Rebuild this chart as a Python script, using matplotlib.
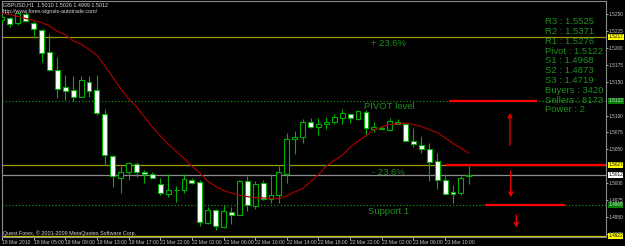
import matplotlib
matplotlib.use("Agg")
import matplotlib.pyplot as plt

plt.rcParams['font.family'] = ['Liberation Sans', 'DejaVu Sans']

# hourly GBPUSD bars
opens = [1.5242, 1.5245, 1.5237, 1.5251, 1.5238, 1.5227, 1.5194, 1.5167, 1.5142, 1.5138,
         1.5128, 1.5150, 1.5138, 1.5103, 1.5040, 1.5008, 1.5017, 1.5029, 1.5016, 1.5013,
         1.4998, 1.4984, 1.4989, 1.4990, 1.5004, 1.5002, 1.4941, 1.4960, 1.4935, 1.4957,
         1.4953, 1.5003, 1.4966, 1.5000, 1.4977, 1.4982, 1.5014, 1.5065, 1.5068, 1.5091,
         1.5083, 1.5087, 1.5090, 1.5096, 1.5103, 1.5095, 1.5105, 1.5080, 1.5082, 1.5078,
         1.5091, 1.5087, 1.5062, 1.5057, 1.5050, 1.5033, 1.5004, 1.4986, 1.4985, 1.5010]
highs = [1.5250, 1.5247, 1.5254, 1.5253, 1.5241, 1.5228, 1.5221, 1.5187, 1.5160, 1.5159,
         1.5159, 1.5159, 1.5160, 1.5110, 1.5041, 1.5025, 1.5031, 1.5031, 1.5019, 1.5016,
         1.5008, 1.5013, 1.4995, 1.5013, 1.5008, 1.5004, 1.4964, 1.4962, 1.4967, 1.4964,
         1.5005, 1.5010, 1.5003, 1.5004, 1.5013, 1.5026, 1.5074, 1.5077, 1.5095, 1.5096,
         1.5096, 1.5098, 1.5103, 1.5110, 1.5103, 1.5107, 1.5109, 1.5090, 1.5085, 1.5096,
         1.5095, 1.5088, 1.5082, 1.5070, 1.5059, 1.5044, 1.5014, 1.4997, 1.5010, 1.5026]
lows = [1.5238, 1.5232, 1.5234, 1.5239, 1.5218, 1.5180, 1.5166, 1.5126, 1.5123, 1.5121,
        1.5127, 1.5128, 1.5101, 1.5027, 1.4994, 1.4985, 1.5004, 1.5009, 1.5000, 1.5007,
        1.4982, 1.4980, 1.4972, 1.4985, 1.4999, 1.4936, 1.4940, 1.4931, 1.4934, 1.4939,
        1.4952, 1.4959, 1.4962, 1.4975, 1.4970, 1.4971, 1.5000, 1.5043, 1.5060, 1.5082,
        1.5071, 1.5080, 1.5087, 1.5087, 1.5089, 1.5094, 1.5070, 1.5076, 1.5080, 1.5077,
        1.5087, 1.5062, 1.5054, 1.5044, 1.5003, 1.4991, 1.4983, 1.4971, 1.4982, 1.4999]
closes = [1.5247, 1.5236, 1.5252, 1.5240, 1.5228, 1.5193, 1.5168, 1.5140, 1.5137, 1.5128,
          1.5153, 1.5137, 1.5104, 1.5041, 1.5010, 1.5016, 1.5030, 1.5016, 1.5014, 1.5008,
          1.4985, 1.4990, 1.4990, 1.5006, 1.5000, 1.4942, 1.4960, 1.4936, 1.4958, 1.4952,
          1.5003, 1.4967, 1.4999, 1.4977, 1.4982, 1.5016, 1.5065, 1.5069, 1.5091, 1.5083,
          1.5088, 1.5091, 1.5098, 1.5104, 1.5096, 1.5107, 1.5081, 1.5083, 1.5080, 1.5092,
          1.5088, 1.5063, 1.5058, 1.5050, 1.5031, 1.5004, 1.4984, 1.4984, 1.5008, 1.5012]
ma = [1.5252, 1.5250, 1.5247, 1.5244, 1.5241, 1.5238, 1.5233, 1.5225, 1.5220, 1.5211,
      1.5206, 1.5198, 1.5189, 1.5174, 1.5157, 1.5140, 1.5125, 1.5113, 1.5098, 1.5083,
      1.5070, 1.5058, 1.5047, 1.5037, 1.5025, 1.5015, 1.5003, 1.4995, 1.4989, 1.4985,
      1.4982, 1.4980, 1.4978, 1.4978, 1.4977, 1.4977, 1.4981, 1.4987, 1.4992, 1.5002,
      1.5013, 1.5025, 1.5034, 1.5041, 1.5053, 1.5062, 1.5070, 1.5079, 1.5083, 1.5087,
      1.5088, 1.5089, 1.5087, 1.5084, 1.5079, 1.5075, 1.5067, 1.5059, 1.5052, 1.5044]

time_labels = ["19 Mar 2010", "19 Mar 05:00", "19 Mar 09:00", "19 Mar 13:00", "19 Mar 17:00",
               "21 Mar 22:00", "22 Mar 02:00", "22 Mar 06:00", "22 Mar 10:00", "22 Mar 14:00",
               "22 Mar 18:00", "22 Mar 22:00", "23 Mar 02:00", "23 Mar 06:00", "23 Mar 10:00"]
label_bars = [0, 4, 8, 12, 16, 20, 24, 28, 32, 36, 40, 44, 48, 52, 56]

# scale labels (1.5125 and 1.5025 sit under the coloured tags)
price_ticks = [1.4925, 1.4950, 1.4975, 1.5000, 1.5050, 1.5075, 1.5100,
               1.5150, 1.5175, 1.5200, 1.5225, 1.5250]

# horizontal objects: price, colour, style
level_prices = [1.5217, 1.5122, 1.5027, 1.5012, 1.4968, 1.4922]
level_colors = ['#9a9a00', '#1c8c1c', '#9a9a00', '#8c8c8c', '#1c8c1c', '#c8c800']
level_styles = ['-', ':', '-', '-', ':', '-']
tag_bg = ['#ffff00', '#008000', '#ffff00', '#ffffff', '#008000', '#ffff00']
tag_fg = ['black', '#d8d8d8', 'black', 'black', '#d8d8d8', 'black']

# red trend segments (price, from bar, to bar)
seg_prices = [1.5122, 1.5027, 1.4967]
seg_start = [56.5, 56.1, 61.1]
seg_end = [67.6, 76.5, 71.2]

# red arrows (bar, from price, to price)
arrow_x = [64.2, 64.3, 65.0]
arrow_from = [1.5052, 1.5022, 1.4957]
arrow_to = [1.5108, 1.4975, 1.4930]

level_text = ["+ 23.6%", "PIVOT level", "- 23.6%", "Support 1"]
level_text_x = [48.8, 48.9, 48.8, 48.8]
level_text_y = [1.5207, 1.5114, 1.5016, 1.4958]

info_lines = ["R3 : 1.5525", "R2 : 1.5371", "R1 : 1.5276", "Pivot : 1.5122", "S1 : 1.4968",
              "S2 : 1.4873", "S3 : 1.4719", "Buyers : 3420", "Sellers : 8173", "Power : 2"]

W, H = 625, 246
fig = plt.figure(figsize=(W / 100, H / 100), dpi=100, facecolor='black')
ax = fig.add_axes([2 / W, 9 / H, 604 / W, 236 / H], facecolor='black')

green = '#00b000'
n = len(opens)
xs = list(range(n))

ax.vlines(xs, lows, highs, color=green, lw=0.8, zorder=3)
bottoms = [min(o, c) for o, c in zip(opens, closes)]
heights = [max(abs(c - o), 0.00002) for o, c in zip(opens, closes)]
faces = ['white' if c < o else 'black' for o, c in zip(opens, closes)]
ax.bar(xs, heights, bottom=bottoms, width=0.62, color=faces, edgecolor=green,
       linewidth=0.8, zorder=4)

ax.plot(xs, ma, color='#a00000', lw=0.9, zorder=5)

for p, c, s in zip(level_prices, level_colors, level_styles):
    ax.axhline(p, color=c, ls=s, lw=0.9, zorder=2)

for p, a, b in zip(seg_prices, seg_start, seg_end):
    ax.plot([a, b], [p, p], color='#ff0000', lw=1.6, zorder=6, solid_capstyle='butt')

for x, a, b in zip(arrow_x, arrow_from, arrow_to):
    ax.annotate('', xy=(x, b), xytext=(x, a),
                arrowprops=dict(arrowstyle='->', color='#ff0000', lw=0.9, mutation_scale=7),
                zorder=6)

for t, x, y in zip(level_text, level_text_x, level_text_y):
    ax.text(x, y, t, color='#1f8f1f', fontsize=6.8, ha='center', va='center', zorder=7)

for k, t in enumerate(info_lines):
    ypix = 21.7 + k * 9.8
    fig.text(545 / W, 1 - ypix / H, t, color='#1f8f1f', fontsize=6.8, ha='left', va='center')

ax.set_xlim((2 - 1.4) / 7.92, (606 - 1.4) / 7.92)
ax.set_ylim(1.4920, 1.5270)

ax.yaxis.tick_right()
ax.set_yticks(price_ticks)
ax.set_yticklabels(['%.4f' % v for v in price_ticks])
ax.tick_params(axis='y', colors='#c8c8c8', labelsize=3.4, length=1.5, width=0.6, pad=0.6)
ax.set_xticks(label_bars)
ax.set_xticklabels(time_labels)
ax.tick_params(axis='x', colors='#c8c8c8', labelsize=3.6, length=2, width=0.6, pad=0.5)
for lbl in ax.get_xticklabels():
    lbl.set_ha('left')

for sp in ax.spines.values():
    sp.set_color('#8c8c8c')
    sp.set_linewidth(0.8)

# coloured price tags on the right scale
for p, bg, fg in zip(level_prices, tag_bg, tag_fg):
    ax.text(1.0035, p, '%.4f' % p, transform=ax.get_yaxis_transform(), fontsize=3.4,
            color=fg, ha='left', va='center', clip_on=False, zorder=8,
            bbox=dict(boxstyle='square,pad=0.12', fc=bg, ec='none'))

fig.text(3 / W, 1 - 5 / H, "GBPUSD,H1  1.5010 1.5026 1.4999 1.5012", color='#d8d8d8',
         fontsize=3.9, ha='left', va='center')
fig.text(3 / W, 1 - 11 / H, "http://www.forex-signals-autotrade.com/", color='#d8d8d8',
         fontsize=3.9, ha='left', va='center')
fig.text(3 / W, 1 - 233 / H, "Quest Forex, \u00a9 2001-2009 MetaQuotes Software Corp.",
         color='#d8d8d8', fontsize=3.9, ha='left', va='center')

fig.savefig('out.png', dpi=100, facecolor='black')
